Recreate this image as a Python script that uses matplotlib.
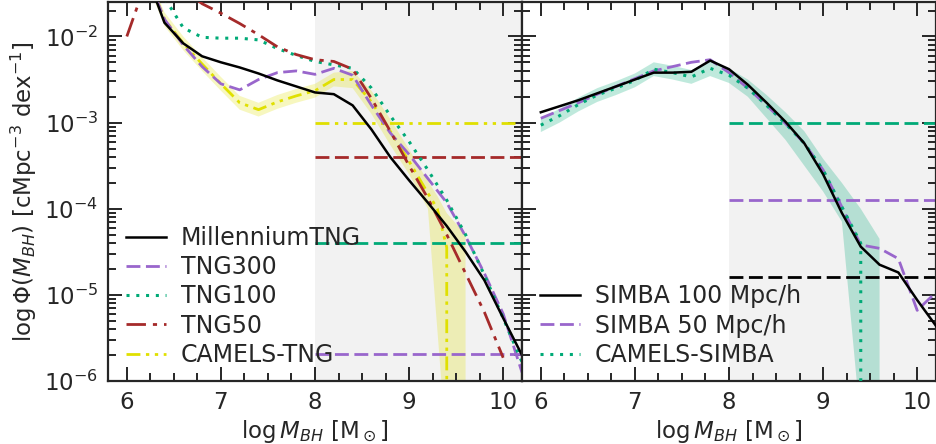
import numpy as np
import matplotlib
matplotlib.use("Agg")
import matplotlib.pyplot as plt
from matplotlib.ticker import MultipleLocator, LogLocator, NullFormatter

# ---------------- data (log10 Phi) ----------------
x_tng = [6.0, 6.2, 6.4, 6.6, 6.8, 7.0, 7.2, 7.4, 7.6, 7.8, 8.0, 8.2, 8.4, 8.6,
         8.8, 9.0, 9.2, 9.4, 9.6, 9.8, 10.0, 10.2]
mtng = [np.nan, -1.25, -1.84, -2.08, -2.23, -2.30, -2.36, -2.43, -2.51, -2.58, -2.65,
        -2.67, -2.80, -3.08, -3.40, -3.67, -3.93, -4.20, -4.50, -4.83, -5.27, -5.70]
tng300 = [np.nan, -1.25, -1.80, -2.10, -2.35, -2.55, -2.62, -2.50, -2.42, -2.40, -2.44,
          -2.37, -2.45, -2.80, -3.12, -3.37, -3.65, -3.93, -4.32, -4.75, -5.22, -5.90]
tng100 = [np.nan, -1.15, -1.55, -1.90, -2.01, -2.02, -2.02, -2.04, -2.14, -2.22, -2.29,
          -2.33, -2.37, -2.60, -2.92, -3.22, -3.55, -3.90, -4.30, -4.77, -5.27, -5.78]
tng50 = [-2.00, -1.38, -1.30, -1.45, -1.62, -1.73, -1.85, -1.98, -2.12, -2.21, -2.27,
         -2.29, -2.38, -2.72, -3.10, -3.50, -3.88, -4.30, -4.75, -5.20, -5.73, np.nan]

x_camels_tng = [6.2, 6.4, 6.6, 6.8, 7.0, 7.2, 7.4, 7.6, 7.8, 8.0, 8.2, 8.4, 8.6,
                8.8, 9.0, 9.2, 9.3, 9.4, 9.6, 9.8]
camels_tng = [-1.25, -1.80, -2.08, -2.32, -2.55, -2.77, -2.85, -2.76, -2.69, -2.63, -2.50,
              -2.50, -2.76, -3.10, -3.45, -3.82, -4.00, -4.45, -np.inf, -np.inf]
camels_tng_lo = [-1.33, -1.88, -2.16, -2.40, -2.63, -2.85, -2.93, -2.84, -2.77, -2.71, -2.58,
                 -2.60, -2.90, -3.26, -3.60, -4.00, -5.40, -6.80, -np.inf, -np.inf]
camels_tng_hi = [-1.17, -1.72, -2.00, -2.24, -2.47, -2.69, -2.77, -2.68, -2.61, -2.55, -2.42,
                 -2.40, -2.63, -2.96, -3.31, -3.68, -3.85, -4.05, -4.30, -np.inf]

tng_hlines = {"yellow": -3.0, "red": -3.40, "green": -4.40, "purple": -5.69}

x_simba = [6.0, 6.2, 6.4, 6.6, 6.8, 7.0, 7.2, 7.4, 7.6, 7.8, 8.0, 8.2, 8.4, 8.6,
           8.8, 9.0, 9.2, 9.4, 9.6, 9.8, 10.0, 10.2]
simba100 = [-2.88, -2.81, -2.74, -2.66, -2.58, -2.50, -2.42, -2.42, -2.41, -2.28, -2.38,
            -2.56, -2.77, -2.99, -3.24, -3.60, -4.05, -4.44, -4.65, -4.74, -5.06, -5.36]
simba50 = [-2.95, -2.86, -2.77, -2.67, -2.58, -2.49, -2.40, -2.35, -2.30, -2.27, -2.42,
           -2.60, -2.80, -3.01, -3.24, -3.55, -3.98, -4.42, -4.46, -4.58, -5.18, -4.97]
camels_simba = [-3.03, -2.92, -2.79, -2.68, -2.60, -2.51, -2.38, -2.42, -2.47, -2.37, -2.45,
                -2.60, -2.80, -3.01, -3.24, -3.55, -3.98, -4.40, -np.inf, -np.inf, -np.inf, -np.inf]
camels_simba_lo = [-3.11, -3.00, -2.87, -2.76, -2.68, -2.59, -2.46, -2.50, -2.55, -2.46, -2.54,
                   -2.70, -2.95, -3.20, -3.50, -3.80, -4.15, -6.50, -np.inf, -np.inf, -np.inf, -np.inf]
camels_simba_hi = [-2.95, -2.84, -2.71, -2.60, -2.52, -2.43, -2.30, -2.34, -2.39, -2.29, -2.37,
                   -2.50, -2.68, -2.88, -3.10, -3.42, -3.70, -4.00, -4.35, -np.inf, -np.inf, -np.inf]

simba_hlines = {"green": -3.0, "purple": -3.90, "black": -4.79}

# ---------------- style ----------------
C_BLACK = "black"
C_PURPLE = "#9966cc"
C_GREEN = "#00aa77"
C_RED = "#a52a2a"
C_YELLOW = "#e0e000"
TXT = "#262626"
FS = 16.5

plt.rcParams.update({
    "font.family": ["DejaVu Sans"],
    "font.size": FS,
    "text.color": TXT,
    "axes.labelcolor": TXT,
    "xtick.color": TXT,
    "ytick.color": TXT,
    "axes.edgecolor": "#262626",
    "axes.linewidth": 1.6,
})

LS_DASH = (0, (5, 2))
LS_DOT = (0, (1, 2.2))
LS_DASHDOT = (0, (7, 2.5, 1.5, 2.5))
LS_DASHDOTDOT = (0, (5, 2, 1.2, 2, 1.2, 2))

fig = plt.figure(figsize=(9.37, 4.44), dpi=100)
ax1 = fig.add_axes([108 / 937, 1 - 381 / 444, 414 / 937, 379 / 444])
ax2 = fig.add_axes([522 / 937, 1 - 381 / 444, 414 / 937, 379 / 444], sharey=ax1)

p = lambda v: np.power(10.0, np.asarray(v, dtype=float))

for ax in (ax1, ax2):
    ax.set_yscale("log")
    ax.set_xlim(5.8, 10.2)
    ax.set_ylim(1e-6, 10 ** -1.6)
    ax.axvspan(8, 10.2, color="#f2f2f2", zorder=0, lw=0)
    ax.xaxis.set_major_locator(MultipleLocator(1))
    ax.xaxis.set_minor_locator(MultipleLocator(0.25))
    ax.yaxis.set_major_locator(LogLocator(base=10, numticks=10))
    ax.yaxis.set_minor_locator(LogLocator(base=10, subs=np.arange(2, 10), numticks=20))
    ax.yaxis.set_minor_formatter(NullFormatter())
    ax.tick_params(which="both", direction="in", top=True, right=True, width=1.4)
    ax.tick_params(which="major", length=10, labelsize=FS, pad=7)
    ax.tick_params(which="minor", length=5.5)
    ax.set_xlabel(r"$\log M_{BH}$ [M$_\odot$]", fontsize=FS, labelpad=3)

leg_kw = dict(loc="lower left", frameon=False, fontsize=17, handlelength=1.7,
              handletextpad=0.6, borderaxespad=0.2, labelspacing=0.22,
              bbox_to_anchor=(0.01, 0.0))

# ---- left panel ----
ax1.fill_between(x_camels_tng, p(camels_tng_lo), p(camels_tng_hi), color=C_YELLOW,
                 alpha=0.25, lw=0, zorder=1)
ax1.plot(x_tng, p(mtng), color=C_BLACK, lw=1.8, label="MillenniumTNG", zorder=5)
ax1.plot(x_tng, p(tng300), color=C_PURPLE, lw=2, ls=LS_DASH, label="TNG300", zorder=4)
ax1.plot(x_tng, p(tng100), color=C_GREEN, lw=2.2, ls=LS_DOT, label="TNG100", zorder=4)
ax1.plot(x_tng, p(tng50), color=C_RED, lw=2, ls=LS_DASHDOT, label="TNG50", zorder=4)
ax1.plot(x_camels_tng, p(camels_tng), color=C_YELLOW, lw=2, ls=LS_DASHDOTDOT,
         label="CAMELS-TNG", zorder=3)

ax1.hlines(p(tng_hlines["yellow"]), 8, 10.2, color=C_YELLOW, lw=2, ls=LS_DASHDOTDOT, zorder=2)
ax1.hlines(p(tng_hlines["red"]), 8, 10.2, color=C_RED, lw=2, ls=LS_DASH, zorder=2)
ax1.hlines(p(tng_hlines["green"]), 8, 10.2, color=C_GREEN, lw=2, ls=LS_DASH, zorder=2)
ax1.hlines(p(tng_hlines["purple"]), 8, 10.2, color=C_PURPLE, lw=2, ls=LS_DASH, zorder=2)

ax1.set_ylabel(r"$\log \Phi(M_{BH})$ [cMpc$^{-3}$ dex$^{-1}$]", fontsize=FS, labelpad=4)
ax1.legend(**leg_kw)

# ---- right panel ----
ax2.fill_between(x_simba, p(camels_simba_lo), p(camels_simba_hi), color=C_GREEN,
                 alpha=0.25, lw=0, zorder=1)
ax2.plot(x_simba, p(simba100), color=C_BLACK, lw=1.8, label="SIMBA 100 Mpc/h", zorder=5)
ax2.plot(x_simba, p(simba50), color=C_PURPLE, lw=2, ls=LS_DASH, label="SIMBA 50 Mpc/h", zorder=4)
ax2.plot(x_simba, p(camels_simba), color=C_GREEN, lw=2.2, ls=LS_DOT, label="CAMELS-SIMBA", zorder=4)

ax2.hlines(p(simba_hlines["green"]), 8, 10.2, color=C_GREEN, lw=2, ls=LS_DASH, zorder=2)
ax2.hlines(p(simba_hlines["purple"]), 8, 10.2, color=C_PURPLE, lw=2, ls=LS_DASH, zorder=2)
ax2.hlines(p(simba_hlines["black"]), 8, 10.2, color=C_BLACK, lw=2, ls=LS_DASH, zorder=2)

ax2.tick_params(labelleft=False)
ax2.legend(**leg_kw)

fig.savefig("out.png", dpi=100)
